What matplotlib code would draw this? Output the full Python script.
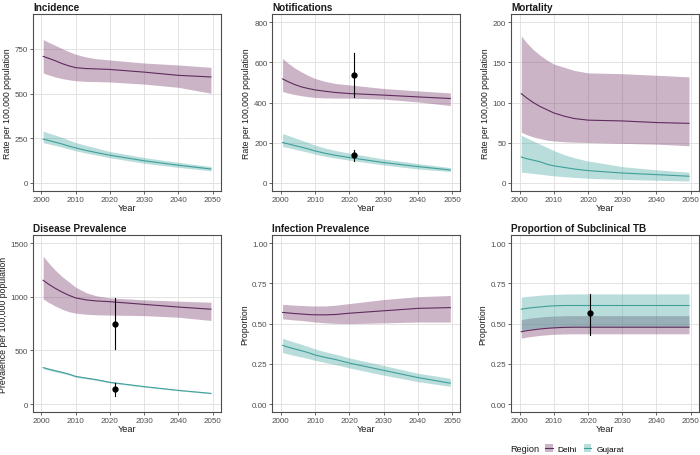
import numpy as np
import matplotlib.pyplot as plt
from matplotlib.patches import Patch
from matplotlib.lines import Line2D

plt.rcParams['font.family'] = ['Liberation Sans', 'DejaVu Sans']

# years of the model output
years = [2000.5, 2002, 2004, 2006, 2008, 2010, 2013, 2016, 2020, 2030, 2040, 2049.5]

# Incidence (rate per 100,000)
inc_delhi_med = [708, 698, 684, 668, 655, 645, 640, 638, 635, 620, 602, 593]
inc_delhi_hi = [802, 788, 770, 752, 735, 720, 705, 695, 688, 671, 660, 647]
inc_delhi_lo = [615, 605, 593, 584, 577, 572, 568, 567, 565, 553, 535, 502]
inc_guj_med = [245, 238, 228, 218, 206, 196, 182, 170, 155, 124, 99, 78]
inc_guj_hi = [290, 280, 268, 255, 240, 226, 210, 196, 176, 142, 115, 92]
inc_guj_lo = [225, 219, 210, 200, 190, 180, 167, 156, 141, 110, 87, 68]

# Notifications
not_delhi_med = [518, 505, 490, 478, 470, 463, 456, 450, 445, 437, 428, 420]
not_delhi_hi = [620, 598, 573, 553, 535, 520, 505, 495, 488, 470, 458, 448]
not_delhi_lo = [455, 448, 440, 434, 429, 425, 423, 422, 422, 417, 403, 385]
not_guj_med = [200, 194, 185, 177, 168, 158, 146, 136, 125, 100, 80, 63]
not_guj_hi = [245, 236, 224, 212, 200, 187, 172, 160, 147, 118, 95, 75]
not_guj_lo = [180, 175, 167, 159, 151, 142, 131, 122, 112, 88, 68, 55]

# Mortality
mor_delhi_med = [111, 106, 100, 95, 91, 87, 83, 80, 78, 77, 75, 74]
mor_delhi_hi = [183, 175, 166, 159, 153, 148, 144, 140, 137, 136, 134, 132]
mor_delhi_lo = [63, 60, 57, 55, 53, 52, 51, 50.5, 50, 49, 48, 46]
mor_guj_med = [32, 30, 28, 26, 23, 21, 19, 17, 15, 12, 10, 8]
mor_guj_hi = [59, 56, 52, 48, 44, 40, 35, 31, 27, 20, 16, 13]
mor_guj_lo = [13, 12.5, 11.5, 10.5, 9.5, 8.5, 7.5, 6.5, 5.5, 4, 3, 2]

# Disease prevalence
dis_delhi_med = [1155, 1120, 1080, 1045, 1015, 990, 972, 962, 955, 930, 905, 885]
dis_delhi_hi = [1380, 1320, 1250, 1190, 1140, 1090, 1040, 1010, 990, 972, 960, 950]
dis_delhi_lo = [980, 950, 915, 885, 862, 848, 838, 833, 830, 825, 810, 780]
dis_guj_med = [340, 327, 311, 296, 280, 258, 243, 228, 203, 163, 128, 100]
dis_guj_hi = [350, 337, 321, 305, 289, 266, 250, 235, 209, 168, 132, 104]
dis_guj_lo = [330, 317, 301, 287, 271, 250, 236, 221, 197, 158, 124, 96]

# Infection prevalence
inf_delhi_med = [0.57, 0.567, 0.563, 0.56, 0.557, 0.555, 0.555, 0.557, 0.565, 0.58, 0.595, 0.60]
inf_delhi_hi = [0.62, 0.618, 0.615, 0.613, 0.611, 0.61, 0.61, 0.615, 0.625, 0.65, 0.668, 0.675]
inf_delhi_lo = [0.53, 0.527, 0.523, 0.52, 0.515, 0.51, 0.505, 0.502, 0.50, 0.505, 0.51, 0.51]
inf_guj_med = [0.365, 0.355, 0.343, 0.332, 0.32, 0.305, 0.29, 0.277, 0.255, 0.21, 0.165, 0.13]
inf_guj_hi = [0.41, 0.398, 0.385, 0.372, 0.358, 0.343, 0.325, 0.31, 0.287, 0.24, 0.192, 0.16]
inf_guj_lo = [0.32, 0.312, 0.302, 0.293, 0.283, 0.272, 0.258, 0.245, 0.225, 0.18, 0.14, 0.11]

# Proportion subclinical
sub_delhi_med = [0.45, 0.456, 0.462, 0.467, 0.471, 0.474, 0.477, 0.478, 0.478, 0.478, 0.478, 0.478]
sub_delhi_hi = [0.525, 0.531, 0.537, 0.541, 0.545, 0.547, 0.549, 0.55, 0.55, 0.55, 0.55, 0.55]
sub_delhi_lo = [0.41, 0.416, 0.422, 0.427, 0.431, 0.434, 0.436, 0.437, 0.437, 0.437, 0.437, 0.437]
sub_guj_med = [0.59, 0.595, 0.60, 0.604, 0.608, 0.611, 0.613, 0.613, 0.613, 0.613, 0.613, 0.613]
sub_guj_hi = [0.665, 0.669, 0.673, 0.677, 0.68, 0.682, 0.684, 0.685, 0.685, 0.685, 0.685, 0.685]
sub_guj_lo = [0.46, 0.465, 0.47, 0.474, 0.477, 0.479, 0.48, 0.48, 0.48, 0.48, 0.48, 0.48]

# observed data points: (year, value, low, high)
not_obs = [(2021.5, 537, 430, 645), (2021.5, 137, 110, 165)]
dis_obs = [(2021.5, 745, 510, 985), (2021.5, 137, 75, 195)]
sub_obs = [(2020.5, 0.565, 0.43, 0.685)]

delhi_line = '#5e2b5d'
delhi_fill = '#7a3a6e'
guj_line = '#3f9f9a'
guj_fill = '#46a8a2'

panels = [
    ('Incidence', 'Rate per 100,000 population',
     (inc_delhi_med, inc_delhi_lo, inc_delhi_hi), (inc_guj_med, inc_guj_lo, inc_guj_hi),
     [], [0, 250, 500, 750], None, (-45, 945)),
    ('Notifications', 'Rate per 100,000 population',
     (not_delhi_med, not_delhi_lo, not_delhi_hi), (not_guj_med, not_guj_lo, not_guj_hi),
     not_obs, [0, 200, 400, 600, 800], None, (-42, 842)),
    ('Mortality', 'Rate per 100,000 population',
     (mor_delhi_med, mor_delhi_lo, mor_delhi_hi), (mor_guj_med, mor_guj_lo, mor_guj_hi),
     [], [0, 50, 100, 150, 200], None, (-10.4, 210.4)),
    ('Disease Prevalence', 'Prevalence per 100,000 population',
     (dis_delhi_med, dis_delhi_lo, dis_delhi_hi), (dis_guj_med, dis_guj_lo, dis_guj_hi),
     dis_obs, [0, 500, 1000, 1500], None, (-75, 1575)),
    ('Infection Prevalence', 'Proportion',
     (inf_delhi_med, inf_delhi_lo, inf_delhi_hi), (inf_guj_med, inf_guj_lo, inf_guj_hi),
     [], [0, 0.25, 0.5, 0.75, 1.0], '%.2f', (-0.05, 1.05)),
    ('Proportion of Subclinical TB', 'Proportion',
     (sub_delhi_med, sub_delhi_lo, sub_delhi_hi), (sub_guj_med, sub_guj_lo, sub_guj_hi),
     sub_obs, [0, 0.25, 0.5, 0.75, 1.0], '%.2f', (-0.05, 1.05)),
]

fig = plt.figure(figsize=(7, 4.56), dpi=100)
lefts = [0.047, 0.389, 0.730]
bottoms = [0.579, 0.094]
w, h = 0.268, 0.388

for i, (title, ylab, dl, gj, obs, yticks, fmt, ylim) in enumerate(panels):
    ax = fig.add_axes([lefts[i % 3], bottoms[i // 3], w, h])
    ax.fill_between(years, dl[1], dl[2], color=delhi_fill, alpha=0.38, lw=0)
    ax.fill_between(years, gj[1], gj[2], color=guj_fill, alpha=0.38, lw=0)
    ax.plot(years, dl[0], color=delhi_line, lw=0.8)
    ax.plot(years, gj[0], color=guj_line, lw=0.8)
    for x, y, lo, hi in obs:
        ax.plot([x, x], [lo, hi], color='black', lw=0.8)
        ax.plot(x, y, 'o', color='black', ms=3.5)
    ax.set_xlim(1997.5, 2052.3)
    ax.set_ylim(*ylim)
    ax.set_xticks([2000, 2010, 2020, 2030, 2040, 2050])
    ax.set_yticks(yticks)
    if fmt:
        ax.set_yticklabels([fmt % t for t in yticks])
    ax.grid(True, color='#e3e3e3', lw=0.7)
    ax.set_axisbelow(True)
    for s in ax.spines.values():
        s.set_color('#4d4d4d')
        s.set_linewidth(0.8)
    ax.tick_params(labelsize=5.8, colors='#4d4d4d', length=2, width=0.6, pad=1.5)
    ax.set_title(title, loc='left', fontsize=7.2, fontweight='bold', pad=3, color='#1a1a1a')
    ax.set_xlabel('Year', fontsize=6.6, labelpad=0, color='#1a1a1a')
    ax.set_ylabel(ylab, fontsize=6.3, labelpad=2, color='#1a1a1a')

# legend
handles = [
    (Patch(facecolor=delhi_fill, alpha=0.38, lw=0), Line2D([], [], color=delhi_line, lw=0.8)),
    (Patch(facecolor=guj_fill, alpha=0.38, lw=0), Line2D([], [], color=guj_line, lw=0.8)),
]
fig.text(0.729, 0.0135, 'Region', fontsize=6.6, color='#1a1a1a', va='center')
fig.legend(handles, ['Delhi', 'Gujarat'], ncol=2, loc='center left',
           bbox_to_anchor=(0.779, 0.0135), frameon=False, fontsize=6.0,
           handlelength=0.9, handleheight=1.1, handletextpad=0.6, columnspacing=0.8,
           borderpad=0, borderaxespad=0)

fig.savefig('out.png', dpi=100)
